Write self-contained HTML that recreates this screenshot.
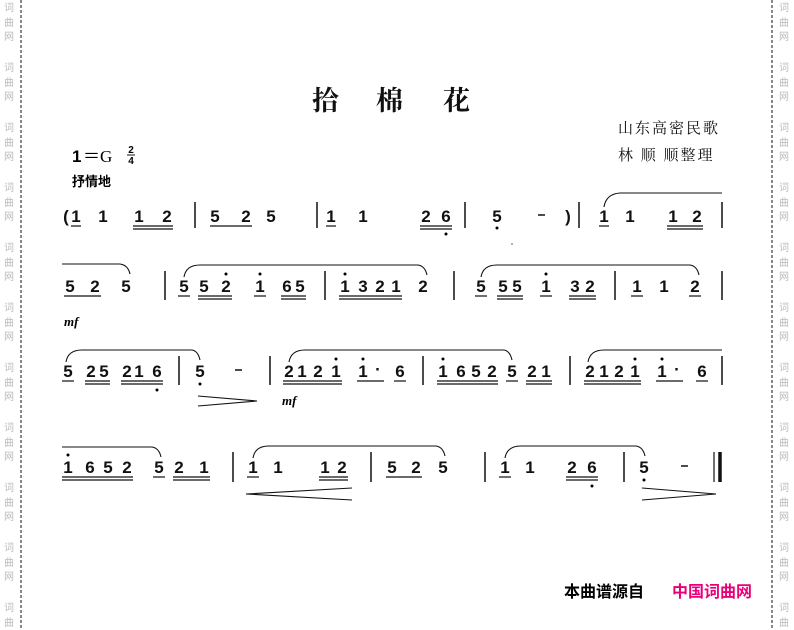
<!DOCTYPE html>
<html><head><meta charset="utf-8"><style>
html,body{margin:0;padding:0;background:#fff;}
svg{display:block;}
.n{font-family:"Liberation Sans",sans-serif;font-weight:bold;font-size:17px;text-anchor:middle;fill:#111;}
.c{font-family:"Liberation Serif","Noto Serif CJK SC",serif;fill:#111;}
.w{font-family:"Noto Sans CJK SC",sans-serif;font-size:10px;fill:#bbb;text-anchor:middle;}
line{stroke:#111;}
.u{stroke-width:1.2;}
.b{stroke-width:1.5;}
path{fill:none;stroke:#111;stroke-width:1.1;}
</style></head><body>
<svg width="794" height="630" viewBox="0 0 794 630" xmlns="http://www.w3.org/2000/svg">
<rect width="794" height="630" fill="#fff"/>
<line x1="21" y1="0" x2="21" y2="630" stroke="#c4c4c4" stroke-dasharray="3,2" stroke-width="1"/>
<line x1="772" y1="0" x2="772" y2="630" stroke="#c4c4c4" stroke-dasharray="3,2" stroke-width="1"/>
<g class="w">
<text x="9" y="11">词</text><text x="9" y="26">曲</text><text x="9" y="40">网</text>
<text x="9" y="71">词</text><text x="9" y="86">曲</text><text x="9" y="100">网</text>
<text x="9" y="131">词</text><text x="9" y="146">曲</text><text x="9" y="160">网</text>
<text x="9" y="191">词</text><text x="9" y="206">曲</text><text x="9" y="220">网</text>
<text x="9" y="251">词</text><text x="9" y="266">曲</text><text x="9" y="280">网</text>
<text x="9" y="311">词</text><text x="9" y="326">曲</text><text x="9" y="340">网</text>
<text x="9" y="371">词</text><text x="9" y="386">曲</text><text x="9" y="400">网</text>
<text x="9" y="431">词</text><text x="9" y="446">曲</text><text x="9" y="460">网</text>
<text x="9" y="491">词</text><text x="9" y="506">曲</text><text x="9" y="520">网</text>
<text x="9" y="551">词</text><text x="9" y="566">曲</text><text x="9" y="580">网</text>
<text x="9" y="611">词</text><text x="9" y="626">曲</text>
<text x="784" y="11">词</text><text x="784" y="26">曲</text><text x="784" y="40">网</text>
<text x="784" y="71">词</text><text x="784" y="86">曲</text><text x="784" y="100">网</text>
<text x="784" y="131">词</text><text x="784" y="146">曲</text><text x="784" y="160">网</text>
<text x="784" y="191">词</text><text x="784" y="206">曲</text><text x="784" y="220">网</text>
<text x="784" y="251">词</text><text x="784" y="266">曲</text><text x="784" y="280">网</text>
<text x="784" y="311">词</text><text x="784" y="326">曲</text><text x="784" y="340">网</text>
<text x="784" y="371">词</text><text x="784" y="386">曲</text><text x="784" y="400">网</text>
<text x="784" y="431">词</text><text x="784" y="446">曲</text><text x="784" y="460">网</text>
<text x="784" y="491">词</text><text x="784" y="506">曲</text><text x="784" y="520">网</text>
<text x="784" y="551">词</text><text x="784" y="566">曲</text><text x="784" y="580">网</text>
<text x="784" y="611">词</text><text x="784" y="626">曲</text>
</g>

<!-- header -->
<text class="c" x="312" y="110" font-size="27" font-weight="bold" font-family="Noto Serif CJK SC,serif">拾</text>
<text class="c" x="376" y="110" font-size="27" font-weight="bold" font-family="Noto Serif CJK SC,serif">棉</text>
<text class="c" x="443" y="110" font-size="27" font-weight="bold" font-family="Noto Serif CJK SC,serif">花</text>
<text class="c" x="618" y="133" font-size="15" letter-spacing="2">山东高密民歌</text>
<text class="c" x="618" y="160" font-size="15" letter-spacing="2">林 顺 顺整理</text>
<text x="72" y="162" font-family="Liberation Sans,sans-serif" font-weight="bold" font-size="17">1</text>
<text x="83" y="162" font-family="Liberation Serif,serif" font-size="17">＝G</text>
<text x="131" y="153" font-family="Liberation Sans,sans-serif" font-weight="bold" font-size="10" text-anchor="middle">2</text>
<line x1="127" y1="155" x2="135" y2="155" stroke-width="1"/>
<text x="131" y="164" font-family="Liberation Sans,sans-serif" font-weight="bold" font-size="10" text-anchor="middle">4</text>
<text x="72" y="186" font-family="Noto Sans CJK SC,sans-serif" font-weight="bold" font-size="13">抒情地</text>

<!-- ROW 1 baseline 222 -->
<g>
<text class="n" x="66" y="222">(</text>
<text class="n" x="76" y="222">1</text><text class="n" x="103" y="222">1</text>
<text class="n" x="139" y="222">1</text><text class="n" x="167" y="222">2</text>
<text class="n" x="215" y="222">5</text><text class="n" x="246" y="222">2</text><text class="n" x="271" y="222">5</text>
<text class="n" x="331" y="222">1</text><text class="n" x="363" y="222">1</text>
<text class="n" x="426" y="222">2</text><text class="n" x="446" y="222">6</text>
<text class="n" x="497" y="222">5</text><line x1="538" y1="215" x2="545" y2="215" stroke-width="1.5"/><text class="n" x="568" y="222">)</text>
<text class="n" x="604" y="222">1</text><text class="n" x="630" y="222">1</text>
<text class="n" x="673" y="222">1</text><text class="n" x="697" y="222">2</text>
<line class="b" x1="195" y1="202" x2="195" y2="228"/>
<line class="b" x1="317" y1="202" x2="317" y2="228"/>
<line class="b" x1="465" y1="202" x2="465" y2="228"/>
<line class="b" x1="579" y1="202" x2="579" y2="228"/>
<line class="b" x1="722" y1="202" x2="722" y2="228"/>
<line class="u" x1="71" y1="226" x2="81" y2="226"/>
<line class="u" x1="133" y1="226" x2="173" y2="226"/><line class="u" x1="133" y1="229" x2="173" y2="229"/>
<line class="u" x1="210" y1="226" x2="252" y2="226"/>
<line class="u" x1="326" y1="226" x2="336" y2="226"/>
<line class="u" x1="420" y1="226" x2="452" y2="226"/><line class="u" x1="420" y1="229" x2="452" y2="229"/>
<line class="u" x1="599" y1="226" x2="609" y2="226"/>
<line class="u" x1="667" y1="226" x2="703" y2="226"/><line class="u" x1="667" y1="229" x2="703" y2="229"/>
<circle cx="446" cy="234" r="1.5"/><circle cx="497" cy="228" r="1.5"/>
<path d="M604 207 Q606 194 620 193 L722 193"/>
<circle cx="512" cy="244" r="0.8" fill="#555"/>
</g>

<!-- ROW 2 baseline 292 -->
<g>
<text class="n" x="70" y="292">5</text><text class="n" x="95" y="292">2</text><text class="n" x="126" y="292">5</text>
<text class="n" x="184" y="292">5</text><text class="n" x="204" y="292">5</text><text class="n" x="226" y="292">2</text>
<text class="n" x="260" y="292">1</text><text class="n" x="287" y="292">6</text><text class="n" x="300" y="292">5</text>
<text class="n" x="345" y="292">1</text><text class="n" x="363" y="292">3</text><text class="n" x="380" y="292">2</text><text class="n" x="396" y="292">1</text><text class="n" x="423" y="292">2</text>
<text class="n" x="481" y="292">5</text><text class="n" x="503" y="292">5</text><text class="n" x="517" y="292">5</text>
<text class="n" x="546" y="292">1</text><text class="n" x="575" y="292">3</text><text class="n" x="590" y="292">2</text>
<text class="n" x="637" y="292">1</text><text class="n" x="664" y="292">1</text><text class="n" x="695" y="292">2</text>
<line class="b" x1="165" y1="271" x2="165" y2="300"/>
<line class="b" x1="325" y1="271" x2="325" y2="300"/>
<line class="b" x1="454" y1="271" x2="454" y2="300"/>
<line class="b" x1="615" y1="271" x2="615" y2="300"/>
<line class="b" x1="722" y1="271" x2="722" y2="300"/>
<line class="u" x1="64" y1="296" x2="101" y2="296"/>
<line class="u" x1="178" y1="296" x2="190" y2="296"/>
<line class="u" x1="198" y1="296" x2="232" y2="296"/><line class="u" x1="198" y1="299" x2="232" y2="299"/>
<line class="u" x1="254" y1="296" x2="266" y2="296"/>
<line class="u" x1="281" y1="296" x2="306" y2="296"/><line class="u" x1="281" y1="299" x2="306" y2="299"/>
<line class="u" x1="339" y1="296" x2="402" y2="296"/><line class="u" x1="339" y1="299" x2="402" y2="299"/>
<line class="u" x1="475" y1="296" x2="487" y2="296"/>
<line class="u" x1="497" y1="296" x2="523" y2="296"/><line class="u" x1="497" y1="299" x2="523" y2="299"/>
<line class="u" x1="540" y1="296" x2="552" y2="296"/>
<line class="u" x1="569" y1="296" x2="596" y2="296"/><line class="u" x1="569" y1="299" x2="596" y2="299"/>
<line class="u" x1="631" y1="296" x2="643" y2="296"/>
<line class="u" x1="689" y1="296" x2="701" y2="296"/>
<circle cx="226" cy="274" r="1.5"/><circle cx="260" cy="274" r="1.5"/><circle cx="345" cy="274" r="1.5"/><circle cx="546" cy="274" r="1.5"/>
<path d="M62 264 L120 264 Q128 265 130 274"/>
<path d="M184 277 Q186 265 200 265 L418 265 Q425 266 427 275"/>
<path d="M481 277 Q483 265 497 265 L690 265 Q697 266 699 275"/>
<text x="64" y="326" font-family="Liberation Serif,serif" font-style="italic" font-weight="bold" font-size="13">mf</text>
</g>

<!-- ROW 3 baseline 377 -->
<g>
<text class="n" x="68" y="377">5</text><text class="n" x="91" y="377">2</text><text class="n" x="104" y="377">5</text>
<text class="n" x="127" y="377">2</text><text class="n" x="139" y="377">1</text><text class="n" x="157" y="377">6</text>
<text class="n" x="200" y="377">5</text><line x1="235" y1="370" x2="242" y2="370" stroke-width="1.5"/>
<text class="n" x="289" y="377">2</text><text class="n" x="302" y="377">1</text><text class="n" x="318" y="377">2</text><text class="n" x="336" y="377">1</text>
<text class="n" x="363" y="377">1</text><text class="n" x="378" y="375">·</text><text class="n" x="400" y="377">6</text>
<text class="n" x="443" y="377">1</text><text class="n" x="461" y="377">6</text><text class="n" x="476" y="377">5</text><text class="n" x="492" y="377">2</text>
<text class="n" x="512" y="377">5</text><text class="n" x="532" y="377">2</text><text class="n" x="546" y="377">1</text>
<text class="n" x="590" y="377">2</text><text class="n" x="604" y="377">1</text><text class="n" x="619" y="377">2</text><text class="n" x="635" y="377">1</text>
<text class="n" x="662" y="377">1</text><text class="n" x="677" y="375">·</text><text class="n" x="702" y="377">6</text>
<line class="b" x1="179" y1="356" x2="179" y2="385"/>
<line class="b" x1="270" y1="356" x2="270" y2="385"/>
<line class="b" x1="423" y1="356" x2="423" y2="385"/>
<line class="b" x1="570" y1="356" x2="570" y2="385"/>
<line class="b" x1="722" y1="356" x2="722" y2="385"/>
<line class="u" x1="62" y1="381" x2="74" y2="381"/>
<line class="u" x1="85" y1="381" x2="110" y2="381"/><line class="u" x1="85" y1="384" x2="110" y2="384"/>
<line class="u" x1="121" y1="381" x2="163" y2="381"/><line class="u" x1="121" y1="384" x2="163" y2="384"/>
<line class="u" x1="283" y1="381" x2="342" y2="381"/><line class="u" x1="283" y1="384" x2="342" y2="384"/>
<line class="u" x1="357" y1="381" x2="384" y2="381"/>
<line class="u" x1="394" y1="381" x2="406" y2="381"/>
<line class="u" x1="437" y1="381" x2="498" y2="381"/><line class="u" x1="437" y1="384" x2="498" y2="384"/>
<line class="u" x1="506" y1="381" x2="518" y2="381"/>
<line class="u" x1="526" y1="381" x2="552" y2="381"/><line class="u" x1="526" y1="384" x2="552" y2="384"/>
<line class="u" x1="584" y1="381" x2="641" y2="381"/><line class="u" x1="584" y1="384" x2="641" y2="384"/>
<line class="u" x1="656" y1="381" x2="683" y2="381"/>
<line class="u" x1="696" y1="381" x2="708" y2="381"/>
<circle cx="157" cy="390" r="1.5"/><circle cx="200" cy="384" r="1.5"/>
<circle cx="336" cy="359" r="1.5"/><circle cx="363" cy="359" r="1.5"/><circle cx="443" cy="359" r="1.5"/>
<circle cx="635" cy="359" r="1.5"/><circle cx="662" cy="359" r="1.5"/>
<path d="M66 362 Q68 350 82 350 L192 350 Q198 351 200 360"/>
<path d="M289 362 Q291 350 305 350 L504 350 Q510 351 512 360"/>
<path d="M588 362 Q590 350 604 350 L722 350"/>
<path d="M198 396 L257 401 L198 406"/>
<text x="282" y="405" font-family="Liberation Serif,serif" font-style="italic" font-weight="bold" font-size="13">mf</text>
</g>

<!-- ROW 4 baseline 473 -->
<g>
<text class="n" x="68" y="473">1</text><text class="n" x="90" y="473">6</text><text class="n" x="108" y="473">5</text><text class="n" x="127" y="473">2</text>
<text class="n" x="159" y="473">5</text><text class="n" x="179" y="473">2</text><text class="n" x="204" y="473">1</text>
<text class="n" x="253" y="473">1</text><text class="n" x="278" y="473">1</text><text class="n" x="325" y="473">1</text><text class="n" x="342" y="473">2</text>
<text class="n" x="392" y="473">5</text><text class="n" x="416" y="473">2</text><text class="n" x="443" y="473">5</text>
<text class="n" x="505" y="473">1</text><text class="n" x="530" y="473">1</text><text class="n" x="572" y="473">2</text><text class="n" x="592" y="473">6</text>
<text class="n" x="644" y="473">5</text><line x1="681" y1="466" x2="688" y2="466" stroke-width="1.5"/>
<line class="b" x1="233" y1="452" x2="233" y2="482"/>
<line class="b" x1="371" y1="452" x2="371" y2="482"/>
<line class="b" x1="485" y1="452" x2="485" y2="482"/>
<line class="b" x1="624" y1="452" x2="624" y2="482"/>
<line stroke-width="1.2" x1="714" y1="452" x2="714" y2="482"/>
<line stroke-width="3.5" x1="720" y1="452" x2="720" y2="482"/>
<line class="u" x1="62" y1="477" x2="133" y2="477"/><line class="u" x1="62" y1="480" x2="133" y2="480"/>
<line class="u" x1="153" y1="477" x2="165" y2="477"/>
<line class="u" x1="173" y1="477" x2="210" y2="477"/><line class="u" x1="173" y1="480" x2="210" y2="480"/>
<line class="u" x1="247" y1="477" x2="259" y2="477"/>
<line class="u" x1="319" y1="477" x2="348" y2="477"/><line class="u" x1="319" y1="480" x2="348" y2="480"/>
<line class="u" x1="386" y1="477" x2="422" y2="477"/>
<line class="u" x1="499" y1="477" x2="511" y2="477"/>
<line class="u" x1="566" y1="477" x2="598" y2="477"/><line class="u" x1="566" y1="480" x2="598" y2="480"/>
<circle cx="68" cy="455" r="1.5"/>
<circle cx="592" cy="486" r="1.5"/><circle cx="644" cy="480" r="1.5"/>
<path d="M62 447 L152 447 Q159 448 161 457"/>
<path d="M253 458 Q255 446 269 446 L436 446 Q443 447 445 456"/>
<path d="M505 458 Q507 446 521 446 L636 446 Q643 447 645 456"/>
<path d="M352 488 L246 494 L352 500"/>
<path d="M642 488 L716 494 L642 500"/>
</g>

<!-- footer -->
<text x="564" y="597" font-family="Noto Sans CJK SC,sans-serif" font-weight="bold" font-size="16" fill="#000">本曲谱源自</text>
<text x="672" y="597" font-family="Noto Sans CJK SC,sans-serif" font-weight="bold" font-size="16" fill="#e8007a">中国词曲网</text>
</svg>
</body></html>
